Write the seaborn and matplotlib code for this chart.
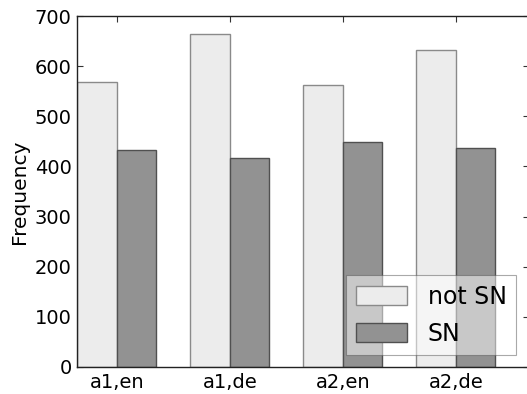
import matplotlib
matplotlib.use("Agg")
import matplotlib.pyplot as plt
import seaborn as sns
import pandas as pd

categories = ["a1,en", "a1,de", "a2,en", "a2,de"]
not_sn = [568, 664, 563, 633]
sn = [433, 417, 449, 436]
series_names = ["not SN", "SN"]

df = pd.DataFrame({
    "cond": categories * 2,
    "Frequency": not_sn + sn,
    "group": [series_names[0]] * 4 + [series_names[1]] * 4,
})

sns.set_style("ticks")
plt.rcParams["font.family"] = ["DejaVu Sans"]
plt.rcParams["text.color"] = "black"
plt.rcParams["axes.labelcolor"] = "black"
plt.rcParams["xtick.color"] = "black"
plt.rcParams["ytick.color"] = "black"

fig = plt.figure(figsize=(5.27, 3.94), dpi=100)
ax = fig.add_axes([77.3 / 527, 27 / 394, 452 / 527, 351 / 394])

face = {"not SN": "#ececec", "SN": "#929292"}
edge = {"not SN": "#8a8a8a", "SN": "#505050"}

sns.barplot(data=df, x="cond", y="Frequency", hue="group", order=categories,
            hue_order=series_names, palette=face, width=0.7, gap=0,
            saturation=1, ax=ax, legend=True, linewidth=1)

for container, name in zip(ax.containers, series_names):
    for p in container:
        p.set_edgecolor(edge[name])
        p.set_linewidth(1)

ax.set_xlim(-0.35, 3.65)
ax.set_ylim(0, 700)
ax.set_yticks(range(0, 701, 100))
ax.set_xlabel("")
ax.set_ylabel("Frequency", fontsize=14.5, color="black")
ax.tick_params(axis="both", direction="in", length=4, width=0.8, color="#333333",
               labelcolor="black", labelsize=14, top=True, right=True, pad=4)
for s in ax.spines.values():
    s.set_visible(True)
    s.set_color("#222222")
    s.set_linewidth(1)

handles, labels = ax.get_legend_handles_labels()
for h, name in zip(handles, labels):
    h.set_edgecolor(edge[name])
leg = ax.legend(handles, labels, loc="lower right",
                bbox_to_anchor=(516 / 527, 39 / 394), bbox_transform=fig.transFigure,
                borderaxespad=0, fontsize=17, framealpha=0.5, fancybox=False,
                edgecolor="#555555", handlelength=2.2, handleheight=0.9,
                borderpad=0.4, labelspacing=0.55, handletextpad=0.85)
for t in leg.get_texts():
    t.set_color("black")
leg.get_frame().set_linewidth(0.8)

fig.savefig("out.png", dpi=100)
